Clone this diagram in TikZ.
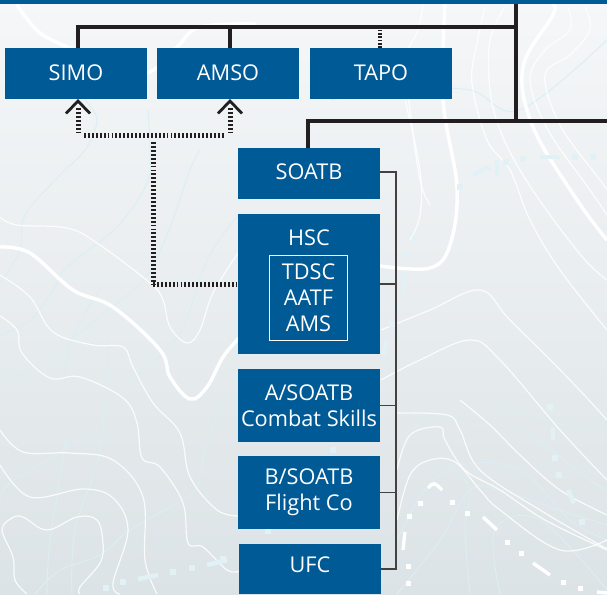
\documentclass[tikz,border=0pt]{standalone}
\usepackage{fontspec}
\setmainfont{Open Sans}
\definecolor{boxblue}{HTML}{005A96}
\definecolor{inkline}{HTML}{231F20}
\definecolor{bgtop}{HTML}{F5F7F8}
\definecolor{bgbot}{HTML}{DCE3E6}
\definecolor{paleblue}{HTML}{DCEEF4}
\definecolor{trailblue}{HTML}{E2F1F5}
\tikzset{
  unitbox/.style={fill=boxblue,draw=none,text=white,minimum width=142*0.75pt,inner sep=0pt,align=center,font=\fontsize{16.3}{19.5}\selectfont},
  trunk/.style={draw=inkline,line width=4*0.75pt},
  dotlink/.style={draw=inkline,line width=5*0.75pt,dash pattern=on 1.4pt off 1.55pt},
  thinlink/.style={draw=inkline!85!white,line width=1.3*0.75pt},
  chevron/.style={draw=inkline,line width=2.8*0.75pt},
  topo/.style={draw=white,line width=0.9pt,opacity=.85},
  topofat/.style={draw=white,line width=2.6pt,line cap=round},
  topopale/.style={draw=paleblue,line width=0.75pt},
  trailw/.style={draw=white,line width=2.6pt},
  trailb/.style={draw=trailblue,line width=3.4pt},
}
\begin{document}
\begin{tikzpicture}[x=0.75pt,y=-0.75pt]
\useasboundingbox (0,0) rectangle (607,594);
\shade[top color=bgtop,bottom color=bgbot] (0,0) rectangle (607,594);
% pale contours
\draw[topopale] plot[smooth,tension=.6] coordinates {(0,500)(10,483)(63,450)(100,423)(133,380)(180,333)(207,260)(240,213)};
\draw[topopale] plot[smooth,tension=.6] coordinates {(0,382)(50,363)(63,347)(83,330)(140,283)(165,240)(190,170)(200,150)};
\draw[topopale] plot[smooth,tension=.6] coordinates {(0,335)(30,320)(53,290)(67,267)(117,227)(147,183)(150,150)(148,110)};
\draw[topopale] plot[smooth,tension=.6] coordinates {(0,283)(20,250)(25,215)(60,175)(85,150)(97,120)(85,100)};
\draw[topopale] plot[smooth,tension=.6] coordinates {(35,594)(60,570)(100,555)(130,530)(190,495)(200,475)(205,450)(225,400)(240,405)};
\draw[topopale] plot[smooth,tension=.6] coordinates {(47,594)(50,540)(65,440)(68,350)(100,290)};
\draw[topopale] plot[smooth,tension=.6] coordinates {(72,594)(75,530)(100,450)(108,340)};
\draw[topopale] plot[smooth,tension=.6] coordinates {(397,440)(410,430)(440,415)(470,425)(520,430)(590,480)(607,490)};
\draw[topopale] plot[smooth,tension=.6] coordinates {(397,540)(425,490)(460,465)(520,470)(570,520)(607,540)};
\draw[topopale] plot[smooth,tension=.6] coordinates {(397,594)(440,540)(470,490)(500,490)(560,510)(607,525)};
\draw[topopale] plot[smooth,tension=.6] coordinates {(470,594)(465,530)(470,490)(455,470)};
\draw[topopale] plot[smooth,tension=.6] coordinates {(500,594)(495,530)(540,520)(607,590)};
\draw[topopale] plot[smooth,tension=.6] coordinates {(490,400)(530,415)(590,430)(607,415)};
\draw[topopale] plot[smooth,tension=.6] coordinates {(330,100)(400,90)(470,90)(520,110)(607,40)};
% white contours, left
\draw[topo] plot[smooth,tension=.6] coordinates {(0,217)(17,225)(67,228)(97,243)(150,283)(163,300)(170,327)(187,343)(200,330)(213,293)(240,250)};
\draw[topo] plot[smooth,tension=.6] coordinates {(0,275)(30,297)(53,332)(93,345)(123,347)(133,367)(153,403)(180,433)(190,477)(217,510)(240,516)};
\draw[topo] plot[smooth,tension=.6] coordinates {(0,316)(17,330)(22,353)(50,378)(80,377)(123,398)(137,423)(142,458)(160,467)(183,503)(188,543)(203,547)(227,570)(240,571)};
\draw[topo] plot[smooth,tension=.6] coordinates {(0,430)(23,452)(70,453)(113,460)(143,497)(145,560)(157,594)};
\draw[topo] plot[smooth,tension=.6] coordinates {(0,465)(30,497)(83,489)(113,498)(128,530)(113,583)(120,594)};
\draw[topo] plot[smooth,tension=.6] coordinates {(27,594)(15,580)(13,557)(2,530)(12,518)(23,517)(47,530)(77,517)(97,520)(103,543)(100,563)(80,587)(80,594)};
% white contours, right
\draw[topo] plot[smooth,tension=.6] coordinates {(423,4)(418,30)(405,60)(410,110)(420,180)(430,205)};
\draw[topo] plot[smooth,tension=.6] coordinates {(485,7)(477,43)(472,83)(487,140)(510,170)(530,220)(560,270)(607,330)};
\draw[topo] plot[smooth,tension=.6] coordinates {(505,7)(490,40)(490,90)(500,130)(520,170)(550,215)(585,260)(607,280)};
\draw[topo] plot[smooth,tension=.6] coordinates {(568,7)(570,30)(545,50)(530,80)(548,130)(590,190)(607,215)};
\draw[topo] plot[smooth,tension=.6] coordinates {(585,7)(590,30)(570,55)(545,75)(560,125)(600,180)(607,190)};
\draw[topo] plot[smooth,tension=.6] coordinates {(405,100)(420,170)(420,215)(410,240)};
\draw[topo] plot[smooth,tension=.6] coordinates {(397,413)(447,415)(460,430)(480,470)(540,510)(600,545)(607,548)};
\draw[topo] plot[smooth,tension=.6] coordinates {(397,470)(410,435)(440,427)(445,440)(465,470)(500,490)(545,520)(607,550)};
\draw[topo] plot[smooth,tension=.6] coordinates {(397,520)(410,475)(430,460)(455,462)(480,490)(500,510)(560,550)(607,540)};
\draw[topo] plot[smooth,tension=.6] coordinates {(460,400)(490,425)(520,455)(560,490)(607,515)};
\draw[topo] plot[smooth,tension=.6] coordinates {(381,380)(420,360)(470,340)(500,360)(560,430)(607,480)};
\draw[topo] plot[smooth,tension=.6] coordinates {(381,330)(430,310)(480,290)(510,320)(570,380)(607,420)};
% thick white contours
\draw[topofat] plot[smooth,tension=.6] coordinates {(0,247)(30,253)(73,290)(113,307)(160,350)(170,377)(190,399)(207,387)(223,357)(240,337)};
\draw[topofat] plot[smooth,tension=.6] coordinates {(380,266)(430,268)(450,245)(457,187)(443,100)(445,4)};
\draw[topofat] plot[smooth,tension=.6] coordinates {(553,4)(553,15)(523,67)(533,127)(577,200)(607,240)};
\draw[topofat] plot[smooth,tension=.6] coordinates {(17,5)(40,33)(75,50)};
\draw[topofat] plot[smooth,tension=.6] coordinates {(120,72)(150,72)(177,47)(200,27)(255,24)};
% trail dashes
\foreach \a/\b in {593/157,575/157,523/159,506/162,460/187,415/239,407/255,397/306,392/324,333/450,268/531,223/559,192/568,173/572,123/582,106/588,555/458,559/475,582/522,550/407}
  \fill[trailblue] (\a-3,\b-3) rectangle (\a+3,\b+3);
\draw[trailb] (540,157)--(560,157);
\draw[trailb] (497,160)--(497,177);
\draw[trailb] (473,175)--(490,167);
\draw[trailb] (403,272)--(403,293);
\draw[trailb] (387,340)--(383,355);
\draw[trailb] (227,560)--(207,565);
\draw[trailb] (158,575)--(138,579);
\draw[trailb] (553,427)--(553,440);
\draw[trailb] (568,490)--(574,503);
% white dashes
\foreach \a/\b in {452/502,467/513,507/542,521/553,563/582,580/588,420/503,409/516,408/566,408/583}
  \fill[white] (\a-2.5,\b-2.5) rectangle (\a+2.5,\b+2.5);
\draw[trailw] (428,488) .. controls (434,482) .. (442,490);
\draw[trailw] (483,517)--(497,530);
\draw[trailw] (533,563)--(550,575);
\draw[trailw] (597,592)--(607,593);
\draw[trailw] (405,532)--(403,550);
% top band
\fill[boxblue] (0,0) rectangle (607,4);
% junction coordinates
\coordinate (topdrop) at (516,4);
\coordinate (tj) at (516,27);
\coordinate (mj) at (516,121);
\coordinate (mright) at (607,121);
\coordinate (busx) at (396,172);
\coordinate (dothub) at (153,135);
\coordinate (simotip) at (78,101);
\coordinate (amsotip) at (230,101);
% connectors under the boxes
\draw[trunk,line join=miter] (78,48) -- (78,27) -- (tj);
\draw[trunk] (229.5,48) -- (229.5,27);
\draw[trunk] (topdrop) -- (mj);
\draw[trunk,line join=miter] (308,148) -- (308,121) -- (mright);
\draw[draw=inkline,line width=4*0.75pt,dash pattern=on 1.2pt off 1.3pt] (380,48) -- (380,29);
% nodes
\node[unitbox,minimum height=51*0.75pt,text depth=1.5pt] (simo) at (76,73.5) {SIMO};
\node[unitbox,minimum height=51*0.75pt,text depth=1.5pt] (amso) at (228,73.5) {AMSO};
\node[unitbox,minimum height=51*0.75pt,text depth=1.5pt] (tapo) at (381,73.5) {TAPO};
\node[unitbox,minimum height=51*0.75pt,text depth=2.5pt] (soatb) at (309,173.5) {SOATB};
\node[unitbox,minimum height=140*0.75pt] (hsc) at (309,284) {};
\node[text=white,inner sep=0pt,font=\fontsize{16.3}{19.5}\selectfont] (hsclabel) at (309,238) {HSC};
\node[draw=white,line width=0.75pt,minimum width=78*0.75pt,minimum height=85*0.75pt,inner sep=0pt,text=white,align=center,font=\fontsize{16.3}{19.5}\selectfont] (hscinner) at (308.5,298) {TDSC\\AATF\\AMS};
\node[unitbox,minimum height=73*0.75pt] (asoatb) at (309,405.5) {A/SOATB\\Combat Skills};
\node[unitbox,minimum height=73*0.75pt] (bsoatb) at (309,492.5) {B/SOATB\\Flight Co};
\node[unitbox,minimum height=50*0.75pt,text depth=6pt] (ufc) at (310,569) {UFC};
% thin bus
\draw[thinlink,line join=miter] (soatb.east |- busx) -- (busx) -- (busx |- ufc.east) -- (ufc.east);
\draw[thinlink] (hsc.east) -- (hsc.east -| busx);
\draw[thinlink] (asoatb.east) -- (asoatb.east -| busx);
\draw[thinlink] (bsoatb.east) -- (bsoatb.east -| busx);
% dotted links
\draw[dotlink] (78,108) -- (78,134);
\draw[dotlink] (230,108) -- (230,134);
\draw[dotlink] (84,135) -- (224,135);
\draw[dotlink] (153,142) -- (153,284);
\draw[dotlink] (153,284.5) -- (hsc.west |- 0,284.5);
% chevrons
\draw[chevron,line join=miter] (66,113.5) -- (simotip) -- (90,113.5);
\draw[chevron,line join=miter] (218,113.5) -- (amsotip) -- (242,113.5);
\end{tikzpicture}
\end{document}
